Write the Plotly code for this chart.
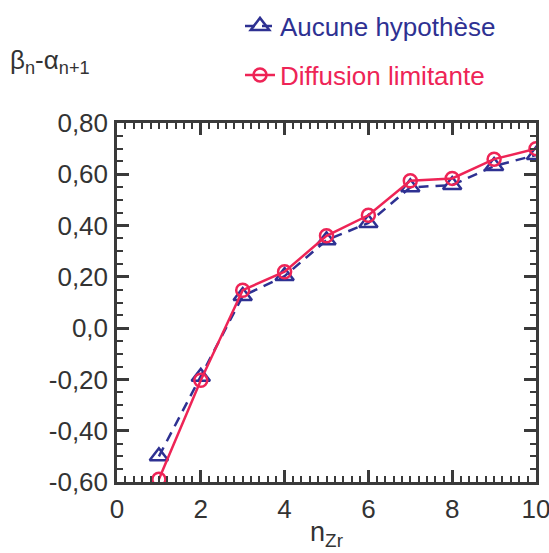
import plotly.graph_objects as go

n_zr = [1, 2, 3, 4, 5, 6, 7, 8, 9, 10]
aucune = [-0.50, -0.19, 0.125, 0.203, 0.343, 0.41, 0.549, 0.558, 0.632, 0.675]
diffusion = [-0.589, -0.203, 0.148, 0.22, 0.36, 0.44, 0.575, 0.584, 0.659, 0.70]

y_tickvals = [-0.6, -0.4, -0.2, 0.0, 0.2, 0.4, 0.6, 0.8]
y_ticktext = ["-0,60", "-0,40", "-0,20", "0,0", "0,20", "0,40", "0,60", "0,80"]
x_tickvals = [0, 2, 4, 6, 8, 10]

navy = "#2E3192"
red = "#EE2456"
axc = "#3a3a3a"
font = "Liberation Sans, Arial, sans-serif"
W, H = 549, 553

fig = go.Figure()
fig.add_trace(go.Scatter(
    x=n_zr, y=aucune, mode="lines+markers",
    name=f"<span style='color:{navy}'>Aucune hypothèse</span>",
    line=dict(color=navy, width=2.5, dash="10px,7px"),
    marker=dict(symbol="triangle-up-open", size=16, color=navy, line=dict(width=2.5, color=navy)),
    legend="legend",
))
fig.add_trace(go.Scatter(
    x=n_zr, y=diffusion, mode="lines+markers",
    name=f"<span style='color:{red}'>Diffusion limitante</span>",
    line=dict(color=red, width=2.5),
    marker=dict(symbol="circle-open", size=13, color=red, line=dict(width=2.5, color=red)),
    legend="legend2",
))

axis_common = dict(
    showline=True, linecolor=axc, linewidth=2.5, mirror="ticks",
    ticks="inside", ticklen=12, tickwidth=2.5, tickcolor=axc,
    showgrid=False, zeroline=False, automargin=False,
    ticklabeloverflow="allow",
    tickfont=dict(family=font, size=26, color="#333"),
)

fig.update_xaxes(
    range=[0, 10], tickvals=x_tickvals,
    minor=dict(ticks="inside", ticklen=6, tickwidth=2, tickcolor=axc, dtick=0.2, tick0=0),
    ticklabelstandoff=2,
    title=dict(text="n<sub>Zr</sub>", font=dict(family=font, size=27, color="#333"), standoff=0),
    **axis_common,
)
fig.update_yaxes(
    range=[-0.6, 0.8], tickvals=y_tickvals, ticktext=y_ticktext,
    minor=dict(ticks="inside", ticklen=6, tickwidth=2, tickcolor=axc, dtick=0.05, tick0=0),
    ticklabelstandoff=1,
    **axis_common,
)

legend_common = dict(
    font=dict(family=font, size=26), bgcolor="rgba(0,0,0,0)",
    xanchor="left", yanchor="middle", itemwidth=30,
    xref="container", yref="container",
)
fig.update_layout(
    width=W, height=H,
    margin=dict(l=117, r=13, t=123, b=71, autoexpand=False),
    paper_bgcolor="white", plot_bgcolor="white",
    showlegend=True,
    legend=dict(x=240 / W, y=1 - 26 / H, **legend_common),
    legend2=dict(x=240 / W, y=1 - 75 / H, **legend_common),
    annotations=[dict(
        text="β<sub>n</sub>-α<sub>n+1</sub>", xref="paper", yref="paper",
        x=(8 - 117) / 419, y=1.0 + (123 - 62) / 359, xanchor="left", yanchor="middle",
        showarrow=False, font=dict(family=font, size=26, color="#333"),
    )],
)

fig.write_html(
    "out.html",
    config={"displayModeBar": False},
    post_script="document.body.style.margin='0';document.body.style.padding='0';document.body.style.overflow='hidden';",
)
